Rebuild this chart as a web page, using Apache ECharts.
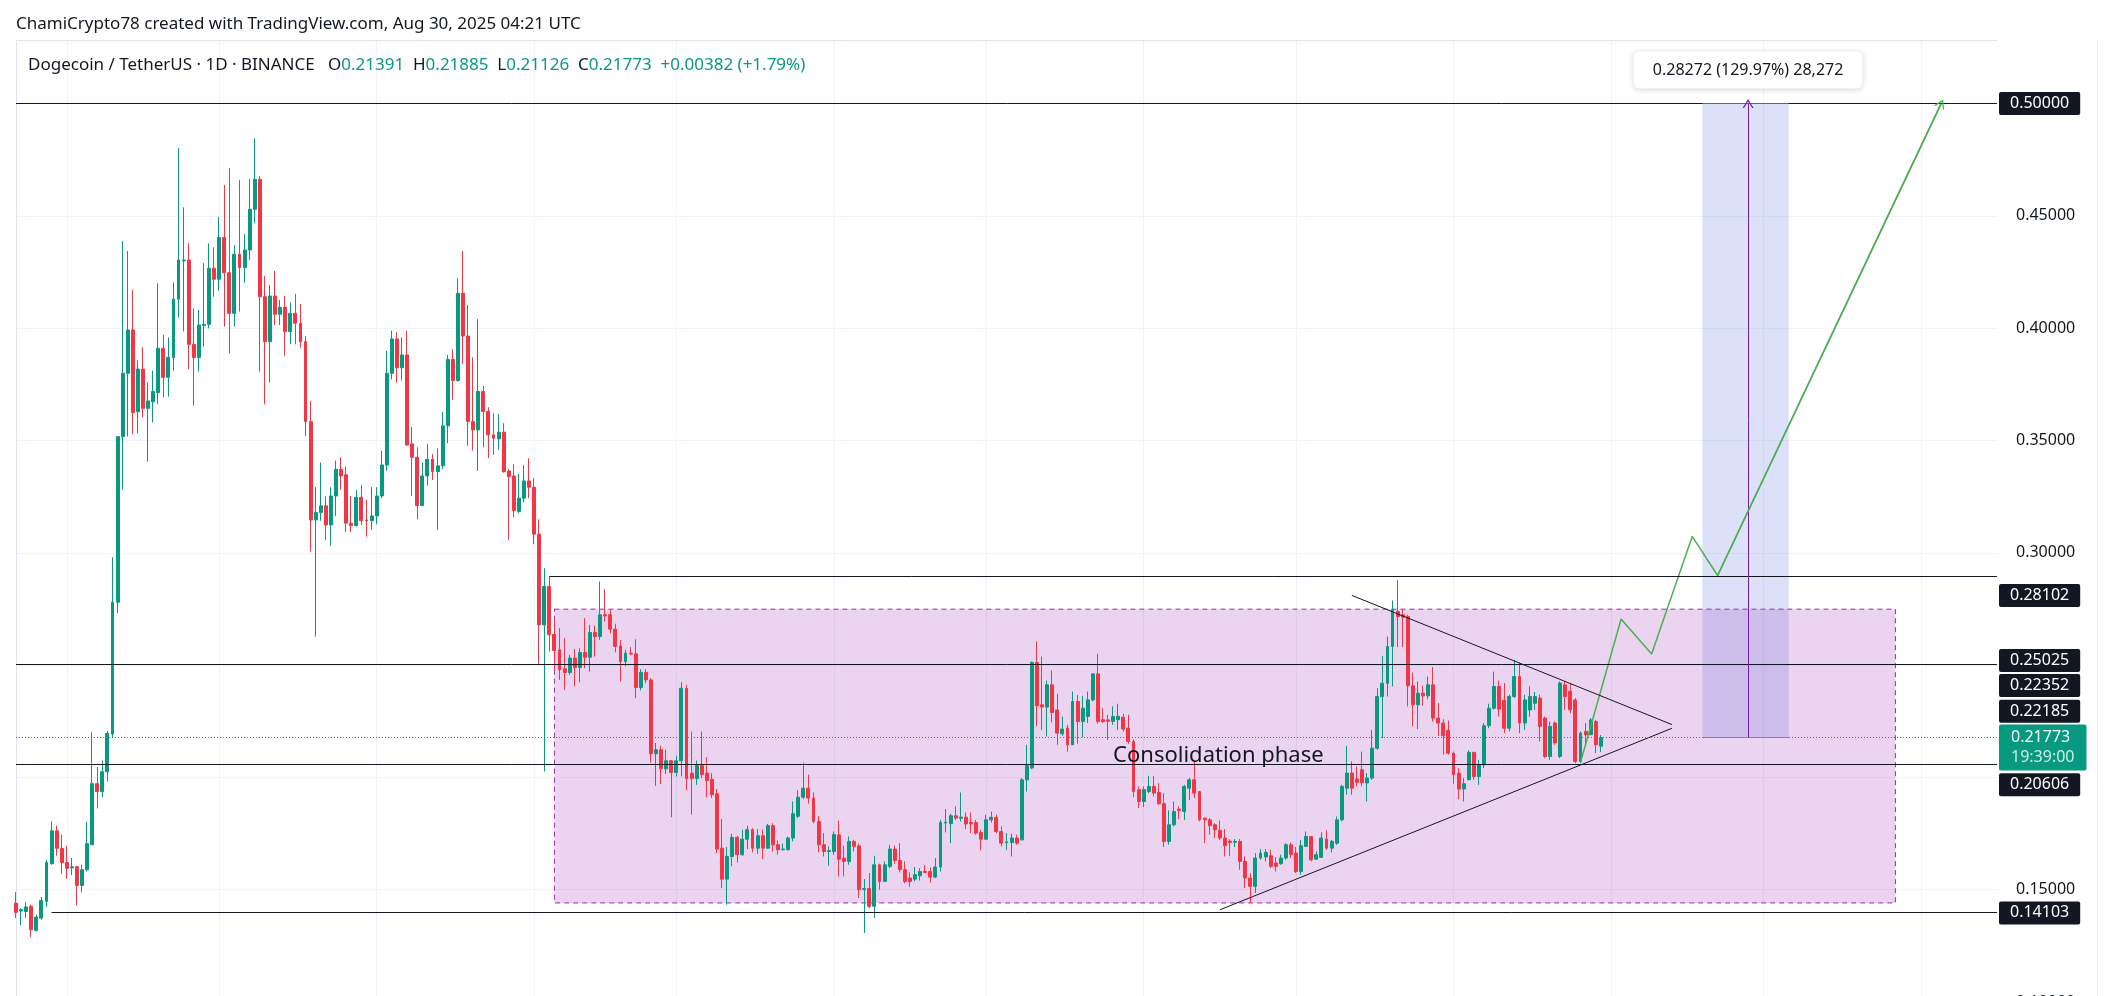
<!DOCTYPE html>
<html>
<head>
<meta charset="utf-8">
<title>Dogecoin / TetherUS 1D</title>
<script src="https://cdn.jsdelivr.net/npm/echarts@6/dist/echarts.min.js"></script>
<style>
  html, body { margin: 0; padding: 0; background: #ffffff; }
  #chart { width: 2114px; height: 996px; }
</style>
</head>
<body>
<div id="chart"></div>
<script>
// daily candles, [open, close, low, high]
const oct24 = [
  [0.1440,0.1399,0.1374,0.1489],[0.1405,0.1411,0.1341,0.1418],[0.1403,0.1423,0.1374,0.1445],
  [0.1426,0.1322,0.1289,0.1433],[0.1319,0.1378,0.1314,0.1389],[0.1374,0.1452,0.1366,0.1467],
  [0.1448,0.1621,0.1423,0.1633],[0.1616,0.1762,0.1611,0.1804],[0.1762,0.1684,0.1651,0.1785],
  [0.1684,0.1621,0.1571,0.1745]
];
const nov24 = [
  [0.1621,0.1595,0.1549,0.1696],[0.1597,0.1602,0.1565,0.1641],[0.1602,0.1519,0.1430,0.1607],
  [0.1519,0.1589,0.1488,0.1611],[0.1589,0.1705,0.1581,0.1802],[0.1700,0.1972,0.1700,0.2200],
  [0.1972,0.1937,0.1862,0.2047],[0.1937,0.2025,0.1911,0.2075],[0.2025,0.2196,0.1982,0.2207],
  [0.2193,0.2780,0.2175,0.2980],[0.2780,0.3517,0.2731,0.3520],[0.3517,0.3799,0.3280,0.4388],
  [0.3799,0.3992,0.3517,0.4344],[0.3992,0.3624,0.3528,0.4170],[0.3628,0.3818,0.3532,0.3856],
  [0.3818,0.3643,0.3603,0.3915],[0.3643,0.3676,0.3406,0.3759],[0.3672,0.3718,0.3580,0.3811],
  [0.3713,0.3910,0.3663,0.4200],[0.3910,0.3781,0.3692,0.3970],[0.3781,0.3870,0.3695,0.3959],
  [0.3869,0.4129,0.3811,0.4204],[0.4129,0.4304,0.4048,0.4801],[0.4300,0.4303,0.3985,0.4538],
  [0.4303,0.3928,0.3817,0.4378],[0.3928,0.3869,0.3655,0.4088],[0.3869,0.4014,0.3807,0.4081],
  [0.4012,0.4017,0.3918,0.4289],[0.4017,0.4267,0.3999,0.4378],[0.4267,0.4218,0.4140,0.4360]
];
const dec24 = [
  [0.4218,0.4404,0.4167,0.4496],[0.4404,0.4247,0.4007,0.4637],[0.4247,0.4066,0.3888,0.4712],
  [0.4066,0.4329,0.4007,0.4370],[0.4329,0.4269,0.4074,0.4660],[0.4269,0.4348,0.4203,0.4419],
  [0.4348,0.4529,0.4304,0.4663],[0.4529,0.4663,0.4467,0.4845],[0.4663,0.4140,0.3807,0.4677],
  [0.4140,0.3940,0.3661,0.4232],[0.3940,0.4143,0.3758,0.4192],[0.4143,0.4062,0.4014,0.4255],
  [0.4062,0.4093,0.4014,0.4126],[0.4093,0.3985,0.3878,0.4143],[0.3985,0.4066,0.3930,0.4115],
  [0.4066,0.4022,0.3928,0.4152],[0.4022,0.3940,0.3913,0.4108],[0.3940,0.3584,0.3520,0.3965],
  [0.3584,0.3146,0.3006,0.3676],[0.3146,0.3179,0.2627,0.3292],[0.3179,0.3209,0.3143,0.3402],
  [0.3209,0.3124,0.3057,0.3250],[0.3124,0.3253,0.3031,0.3292],[0.3253,0.3372,0.3164,0.3411],
  [0.3372,0.3342,0.3280,0.3425],[0.3347,0.3132,0.3092,0.3384],[0.3132,0.3121,0.3092,0.3253],
  [0.3121,0.3247,0.3117,0.3280],[0.3247,0.3143,0.3124,0.3302],[0.3146,0.3143,0.3072,0.3235],
  [0.3143,0.3164,0.3102,0.3292]
];
const jan25 = [
  [0.3164,0.3253,0.3127,0.3292],[0.3253,0.3391,0.3243,0.3454],[0.3391,0.3799,0.3366,0.3899],
  [0.3799,0.3952,0.3772,0.3989],[0.3952,0.3824,0.3758,0.3982],[0.3824,0.3881,0.3767,0.3959],
  [0.3881,0.3480,0.3476,0.3988],[0.3485,0.3425,0.3253,0.3559],[0.3425,0.3210,0.3149,0.3470],
  [0.3210,0.3342,0.3209,0.3402],[0.3342,0.3416,0.3299,0.3485],[0.3416,0.3362,0.3324,0.3439],
  [0.3362,0.3387,0.3102,0.3465],[0.3387,0.3565,0.3372,0.3626],[0.3565,0.3861,0.3488,0.3881],
  [0.3861,0.3767,0.3681,0.3906],[0.3767,0.4155,0.3762,0.4222],[0.4155,0.3965,0.3841,0.4344],
  [0.3965,0.3584,0.3476,0.4103],[0.3584,0.3547,0.3455,0.3870],[0.3547,0.3718,0.3365,0.4040],
  [0.3718,0.3629,0.3470,0.3743],[0.3629,0.3525,0.3421,0.3648],[0.3525,0.3510,0.3436,0.3621],
  [0.3507,0.3537,0.3458,0.3618],[0.3537,0.3361,0.3357,0.3577],[0.3364,0.3339,0.3057,0.3372],
  [0.3342,0.3188,0.3158,0.3394],[0.3184,0.3243,0.3176,0.3351],[0.3243,0.3320,0.3224,0.3391],
  [0.3320,0.3292,0.3243,0.3421]
];
const feb25 = [
  [0.3292,0.3083,0.3038,0.3332],[0.3083,0.2679,0.2506,0.3149],[0.2679,0.2850,0.2026,0.2931],
  [0.2850,0.2635,0.2560,0.2894],[0.2637,0.2565,0.2479,0.2701],[0.2568,0.2479,0.2434,0.2664],
  [0.2483,0.2467,0.2390,0.2620],[0.2467,0.2531,0.2457,0.2546],[0.2531,0.2489,0.2405,0.2571],
  [0.2489,0.2556,0.2423,0.2575],[0.2556,0.2535,0.2486,0.2709],[0.2535,0.2645,0.2471,0.2679],
  [0.2645,0.2627,0.2538,0.2675],[0.2627,0.2724,0.2612,0.2872],[0.2724,0.2719,0.2694,0.2838],
  [0.2724,0.2660,0.2642,0.2746],[0.2660,0.2583,0.2557,0.2684],[0.2585,0.2516,0.2427,0.2612],
  [0.2516,0.2553,0.2494,0.2568],[0.2553,0.2549,0.2546,0.2580],[0.2550,0.2400,0.2353,0.2615],
  [0.2400,0.2468,0.2387,0.2482],[0.2468,0.2434,0.2420,0.2482],[0.2434,0.2105,0.2066,0.2442],
  [0.2105,0.2123,0.1963,0.2153],[0.2123,0.2038,0.1970,0.2141],[0.2038,0.2074,0.2016,0.2123],
  [0.2074,0.2022,0.1823,0.2078]
];
const mar25 = [
  [0.2022,0.2074,0.2004,0.2096],[0.2074,0.2397,0.2004,0.2423],[0.2397,0.1995,0.1942,0.2412],
  [0.2019,0.1995,0.1834,0.2204],[0.1995,0.2052,0.1967,0.2075],[0.2052,0.2012,0.1997,0.2204],
  [0.2019,0.1986,0.1912,0.2090],[0.1992,0.1923,0.1908,0.2019],[0.1927,0.1681,0.1663,0.1948],
  [0.1685,0.1547,0.1507,0.1814],[0.1547,0.1648,0.1433,0.1690],[0.1648,0.1733,0.1604,0.1749],
  [0.1733,0.1656,0.1621,0.1740],[0.1656,0.1725,0.1651,0.1767],[0.1725,0.1767,0.1681,0.1785],
  [0.1767,0.1685,0.1666,0.1774],[0.1685,0.1740,0.1660,0.1770],[0.1740,0.1685,0.1636,0.1767],
  [0.1685,0.1785,0.1681,0.1793],[0.1785,0.1700,0.1670,0.1796],[0.1700,0.1678,0.1656,0.1719],
  [0.1678,0.1681,0.1675,0.1705],[0.1678,0.1730,0.1675,0.1737],[0.1730,0.1838,0.1715,0.1893],
  [0.1827,0.1912,0.1819,0.1942],[0.1912,0.1952,0.1903,0.2066],[0.1952,0.1908,0.1883,0.2012],
  [0.1908,0.1804,0.1796,0.1933],[0.1804,0.1700,0.1666,0.1829],[0.1700,0.1670,0.1648,0.1752],
  [0.1670,0.1674,0.1607,0.1693]
];
const apr25 = [
  [0.1670,0.1745,0.1656,0.1759],[0.1744,0.1636,0.1559,0.1808],[0.1641,0.1626,0.1559,0.1696],
  [0.1626,0.1715,0.1611,0.1737],[0.1715,0.1693,0.1670,0.1722],[0.1695,0.1500,0.1463,0.1705],
  [0.1500,0.1505,0.1307,0.1547],[0.1505,0.1426,0.1418,0.1574],[0.1426,0.1611,0.1374,0.1651],
  [0.1611,0.1537,0.1500,0.1616],[0.1537,0.1611,0.1537,0.1626],[0.1604,0.1681,0.1596,0.1700],
  [0.1681,0.1630,0.1616,0.1696],[0.1630,0.1589,0.1577,0.1707],[0.1589,0.1537,0.1529,0.1626],
  [0.1552,0.1537,0.1512,0.1577],[0.1547,0.1567,0.1537,0.1601],[0.1562,0.1581,0.1541,0.1596],
  [0.1581,0.1577,0.1574,0.1611],[0.1581,0.1556,0.1532,0.1600],[0.1556,0.1601,0.1552,0.1641],
  [0.1601,0.1799,0.1581,0.1811],[0.1797,0.1800,0.1755,0.1859],[0.1794,0.1829,0.1707,0.1838],
  [0.1829,0.1819,0.1811,0.1871],[0.1818,0.1823,0.1804,0.1933],[0.1823,0.1793,0.1770,0.1844],
  [0.1799,0.1793,0.1752,0.1844],[0.1799,0.1752,0.1745,0.1811],[0.1755,0.1725,0.1675,0.1767]
];
const may25 = [
  [0.1725,0.1811,0.1722,0.1834],[0.1811,0.1822,0.1799,0.1848],[0.1822,0.1759,0.1752,0.1834],
  [0.1759,0.1707,0.1693,0.1782],[0.1709,0.1713,0.1678,0.1752],[0.1710,0.1730,0.1648,0.1749],
  [0.1730,0.1707,0.1700,0.1745],[0.1722,0.1989,0.1719,0.1997],[0.1989,0.2052,0.1937,0.2145],
  [0.2042,0.2512,0.2037,0.2516],[0.2512,0.2319,0.2227,0.2605],[0.2323,0.2313,0.2212,0.2538],
  [0.2313,0.2412,0.2182,0.2431],[0.2412,0.2289,0.2245,0.2476],[0.2300,0.2197,0.2145,0.2372],
  [0.2194,0.2215,0.2185,0.2271],[0.2219,0.2145,0.2115,0.2234],[0.2145,0.2338,0.2145,0.2382],
  [0.2338,0.2249,0.2150,0.2368],[0.2249,0.2308,0.2179,0.2363],[0.2271,0.2345,0.2242,0.2382],
  [0.2345,0.2461,0.2338,0.2464],[0.2461,0.2249,0.2239,0.2550],[0.2257,0.2249,0.2242,0.2308],
  [0.2256,0.2250,0.2167,0.2279],[0.2249,0.2271,0.2234,0.2316],[0.2257,0.2272,0.2212,0.2328],
  [0.2268,0.2215,0.2204,0.2283],[0.2219,0.2160,0.2150,0.2279],[0.2160,0.1937,0.1912,0.2170],
  [0.1945,0.1893,0.1863,0.1960]
];
const jun25 = [
  [0.1893,0.1945,0.1868,0.1960],[0.1937,0.1960,0.1930,0.2007],[0.1960,0.1930,0.1915,0.2007],
  [0.1933,0.1883,0.1878,0.1974],[0.1883,0.1715,0.1690,0.1930],[0.1715,0.1789,0.1700,0.1853],
  [0.1789,0.1848,0.1782,0.1893],[0.1859,0.1853,0.1814,0.1871],[0.1848,0.1960,0.1811,0.1967],
  [0.1952,0.1989,0.1900,0.1997],[0.1989,0.1930,0.1908,0.2071],[0.1937,0.1811,0.1804,0.1937],
  [0.1819,0.1811,0.1707,0.1819],[0.1811,0.1785,0.1745,0.1819],[0.1789,0.1767,0.1730,0.1796],
  [0.1764,0.1730,0.1722,0.1808],[0.1730,0.1696,0.1648,0.1770],[0.1716,0.1710,0.1651,0.1725],
  [0.1711,0.1715,0.1690,0.1725],[0.1715,0.1626,0.1589,0.1725],[0.1626,0.1552,0.1507,0.1648],
  [0.1552,0.1515,0.1440,0.1574],[0.1515,0.1641,0.1485,0.1663],[0.1641,0.1663,0.1633,0.1681],
  [0.1646,0.1666,0.1626,0.1681],[0.1651,0.1604,0.1596,0.1678],[0.1619,0.1604,0.1581,0.1645],
  [0.1616,0.1641,0.1611,0.1656],[0.1641,0.1700,0.1633,0.1707],[0.1700,0.1656,0.1641,0.1710]
];
const jul25 = [
  [0.1663,0.1581,0.1574,0.1690],[0.1581,0.1696,0.1567,0.1722],[0.1693,0.1737,0.1690,0.1759],
  [0.1737,0.1633,0.1626,0.1737],[0.1636,0.1656,0.1633,0.1670],[0.1644,0.1730,0.1645,0.1755],
  [0.1725,0.1685,0.1678,0.1764],[0.1685,0.1715,0.1666,0.1722],[0.1707,0.1811,0.1700,0.1826],
  [0.1811,0.1960,0.1804,0.1967],[0.1952,0.2019,0.1923,0.2141],[0.2019,0.1952,0.1923,0.2071],
  [0.1993,0.1978,0.1960,0.2049],[0.2034,0.1977,0.1960,0.2115],[0.1975,0.1997,0.1893,0.2019],
  [0.1997,0.2130,0.1989,0.2212],[0.2130,0.2360,0.2123,0.2397],[0.2360,0.2419,0.2175,0.2541],
  [0.2419,0.2583,0.2360,0.2627],[0.2583,0.2746,0.2405,0.2787],[0.2739,0.2716,0.2580,0.2879],
  [0.2724,0.2713,0.2580,0.2746],[0.2716,0.2408,0.2316,0.2724],[0.2408,0.2323,0.2227,0.2467],
  [0.2323,0.2375,0.2215,0.2427],[0.2375,0.2363,0.2319,0.2408],[0.2363,0.2412,0.2348,0.2449],
  [0.2412,0.2264,0.2249,0.2491],[0.2264,0.2242,0.2185,0.2331],[0.2242,0.2185,0.2101,0.2259],
  [0.2209,0.2108,0.2101,0.2253]
];
const aug25 = [
  [0.2108,0.2012,0.1972,0.2115],[0.2019,0.1948,0.1903,0.2041],[0.1948,0.1972,0.1893,0.1997],
  [0.1990,0.2111,0.1986,0.2120],[0.2111,0.2004,0.1989,0.2115],[0.2004,0.2056,0.1967,0.2078],
  [0.2056,0.2230,0.2041,0.2242],[0.2230,0.2308,0.2219,0.2328],[0.2308,0.2405,0.2301,0.2471],
  [0.2405,0.2304,0.2271,0.2431],[0.2343,0.2219,0.2197,0.2420],[0.2219,0.2360,0.2205,0.2368],
  [0.2360,0.2449,0.2353,0.2523],[0.2449,0.2242,0.2197,0.2509],[0.2242,0.2345,0.2212,0.2368],
  [0.2300,0.2360,0.2270,0.2405],[0.2330,0.2360,0.2300,0.2380],[0.2353,0.2227,0.2160,0.2368],
  [0.2264,0.2093,0.2086,0.2271],[0.2093,0.2227,0.2078,0.2249],[0.2242,0.2153,0.2145,0.2249],
  [0.2093,0.2420,0.2086,0.2427],[0.2412,0.2360,0.2301,0.2427],[0.2383,0.2301,0.2286,0.2420],
  [0.2345,0.2071,0.2063,0.2353],[0.2071,0.2197,0.2063,0.2205],[0.2205,0.2190,0.2138,0.2242],
  [0.2190,0.2256,0.2190,0.2264],[0.2249,0.2145,0.2108,0.2256],[0.21391,0.21773,0.21126,0.21885]
];

// drawings: [bar index, price]
const triangleUpper = [[263, 0.28102], [326, 0.22352]];
const triangleLower = [[237, 0.14103], [326, 0.22185]];
const projection = [[308, 0.2066], [316, 0.2705], [322, 0.2549], [330, 0.3073], [335, 0.2899], [379, 0.5]];
const consolidation = [[106, 0.2749], [370, 0.1441]];
const longBox = [[332, 0.5], [349, 0.21773]];
const targetBar = 341;
const levelsFull = [0.5, 0.25025, 0.20606];
const levelRays = [[105, 0.2897], [7, 0.1401]];
const lastPrice = 0.21773;
const headerLine = 'ChamiCrypto78 created with TradingView.com, Aug 30, 2025 04:21 UTC';
const symbolLine = 'Dogecoin / TetherUS · 1D · BINANCE';
const ohlc = ['0.21391', '0.21885', '0.21126', '0.21773'];
const change = '+0.00382 (+1.79%)';

const candles = [].concat(oct24, nov24, dec24, jan25, feb25, mar25, apr25, may25, jun25, jul25, aug25);

// one category per day, running past the data into empty space on the right
const dates = [];
const startDay = Date.UTC(2024, 9, 22);
for (let k = 0; k < 391; k++) {
  dates.push(new Date(startDay + k * 86400000).toISOString().slice(0, 10));
}
const lastIdx = dates.length - 1;

const UP = '#089981';
const DOWN = '#F23645';
const INK = '#131722';
const FONT = 'Noto Sans';
const chevron = 'path://M0,10L5,0L10,10L8.7,10L5,2.7L1.3,10Z';

const tag = (text, dy) => ({
  show: true, position: 'end', distance: 2, formatter: text,
  color: '#ffffff', backgroundColor: INK, fontFamily: FONT, fontSize: 16,
  padding: [4, 11, 3, 11], borderRadius: 2, offset: [0, dy]
});
const pt = (p) => ({ coord: [dates[p[0]], p[1]] });

const chart = echarts.init(document.getElementById('chart'));

const option = {
  animation: false,
  backgroundColor: '#ffffff',
  textStyle: { fontFamily: FONT },
  title: [
    {
      text: headerLine, left: 16, top: 16, padding: 0,
      textStyle: { fontSize: 17, fontWeight: 'normal', color: INK, fontFamily: FONT }
    },
    {
      text: '{n|' + symbolLine + '}   {k|O}{v|' + ohlc[0] + '}  {k|H}{v|' + ohlc[1] + '}  {k|L}{v|' +
        ohlc[2] + '}  {k|C}{v|' + ohlc[3] + '}  {v|' + change + '}',
      left: 28, top: 57, padding: 0,
      textStyle: {
        fontSize: 17, fontWeight: 'normal', fontFamily: FONT,
        rich: {
          n: { fontSize: 17, color: INK, fontFamily: FONT },
          k: { fontSize: 17, color: INK, fontFamily: FONT },
          v: { fontSize: 17, color: UP, fontFamily: FONT }
        }
      }
    }
  ],
  grid: { left: 16, right: 117, top: 40, bottom: -6, outerBoundsMode: 'none', containLabel: false },
  xAxis: {
    type: 'category', data: dates, boundaryGap: false, position: 'top',
    axisLine: { show: true, lineStyle: { color: '#e0e3eb' } },
    axisTick: { show: false }, axisLabel: { show: false },
    splitLine: {
      show: true,
      interval: (i, v) => v.slice(8) === '01',
      lineStyle: { color: '#f0f3fa', width: 1 }
    }
  },
  yAxis: [
    {
      type: 'value', position: 'right', min: 0.1, max: 0.5283, interval: 0.05,
      axisLine: { show: false }, axisTick: { show: false },
      splitLine: { lineStyle: { color: '#f0f3fa', width: 1 } },
      axisLabel: {
        margin: 19, color: INK, fontSize: 16, fontFamily: FONT,
        formatter: (v) => {
          const k = Math.round(v / 0.05);
          if (Math.abs(v - k * 0.05) > 1e-6) return '';
          if (k === 4 || k === 5 || k === 10) return '';
          return v.toFixed(5);
        }
      }
    },
    {
      type: 'value', position: 'left', min: 0.1, max: 0.5283,
      axisLine: { show: true, lineStyle: { color: '#e0e3eb' } },
      axisTick: { show: false }, axisLabel: { show: false }, splitLine: { show: false }
    },
    {
      type: 'value', position: 'right', offset: 100, min: 0.1, max: 0.5283,
      axisLine: { show: true, lineStyle: { color: '#eef0f4' } },
      axisTick: { show: false }, axisLabel: { show: false }, splitLine: { show: false }
    }
  ],
  series: [
    {
      name: 'DOGEUSDT', type: 'candlestick', data: candles, barWidth: 3.4,
      itemStyle: { color: UP, color0: DOWN, borderColor: UP, borderColor0: DOWN, borderWidth: 1 },
      markArea: {
        silent: true,
        data: [
          [
            Object.assign(pt(consolidation[0]), {
              itemStyle: { color: 'rgba(156,39,176,0.2)', borderColor: '#9c27b0', borderWidth: 1, borderType: [5, 4] }
            }),
            pt(consolidation[1])
          ],
          [
            Object.assign(pt(longBox[0]), { itemStyle: { color: 'rgba(80,100,220,0.2)', borderWidth: 0 } }),
            pt(longBox[1])
          ]
        ]
      },
      markLine: {
        silent: true, symbol: ['none', 'none'], precision: 5,
        lineStyle: { color: INK, width: 1, type: 'solid' },
        label: { show: false },
        data: [
          ...levelsFull.map((v) => ({
            yAxis: v, label: tag(v.toFixed(5), v === 0.25025 ? -4 : (v === 0.20606 ? 21 : 0))
          })),
          [
            { coord: [dates[levelRays[0][0]], levelRays[0][1]] },
            { coord: [dates[lastIdx], levelRays[0][1]] }
          ],
          [
            { coord: [dates[levelRays[1][0]], levelRays[1][1]], label: tag('0.14103', 1) },
            { coord: [dates[lastIdx], levelRays[1][1]] }
          ],
          { yAxis: 0.28102, lineStyle: { color: 'transparent' }, label: tag('0.28102', 0) },
          { yAxis: 0.22352, lineStyle: { color: 'transparent' }, label: tag('0.22352', -39) },
          { yAxis: 0.22185, lineStyle: { color: 'transparent' }, label: tag('0.22185', -17) },
          [pt(triangleUpper[0]), pt(triangleUpper[1])],
          [pt(triangleLower[0]), pt(triangleLower[1])],
          {
            yAxis: lastPrice,
            lineStyle: { color: UP, type: [1, 2], width: 1 },
            label: {
              show: true, position: 'end', distance: 2,
              formatter: '{p|' + lastPrice.toFixed(5) + '}\n{t|19:39:00}',
              backgroundColor: UP, padding: [3, 12, 3, 12], borderRadius: 2, offset: [0, 10],
              rich: {
                p: { color: '#ffffff', fontSize: 16, fontFamily: FONT, lineHeight: 20 },
                t: { color: 'rgba(255,255,255,0.8)', fontSize: 16, fontFamily: FONT, lineHeight: 20 }
              }
            }
          },
          [
            Object.assign(pt(longBox[0]), { lineStyle: { color: '#8e44ad', width: 1 } }),
            { coord: [dates[longBox[1][0]], longBox[0][1]] }
          ],
          [
            Object.assign({ coord: [dates[longBox[0][0]], longBox[1][1]] }, { lineStyle: { color: '#8e7cc3', width: 1 } }),
            pt(longBox[1])
          ],
          [
            { coord: [dates[targetBar], longBox[1][1]], lineStyle: { color: '#7b1fa2', width: 1 } },
            {
              coord: [dates[targetBar], longBox[0][1]], symbol: chevron, symbolSize: [11, 9],
              label: {
                show: true, position: 'end', distance: 15,
                formatter: '0.28272 (129.97%) 28,272',
                color: INK, fontSize: 16, fontFamily: FONT,
                backgroundColor: '#ffffff', padding: [11, 19, 10, 19], borderRadius: 5,
                shadowColor: 'rgba(0,0,0,0.18)', shadowBlur: 6, shadowOffsetY: 1
              }
            }
          ]
        ]
      },
      markPoint: {
        silent: true,
        data: [
          {
            coord: [dates[215], 0.2096], symbol: 'circle', symbolSize: 0,
            label: {
              show: true, position: 'right', distance: 5, formatter: 'Consolidation phase',
              color: INK, fontSize: 22, fontFamily: FONT
            }
          }
        ]
      }
    },
    {
      name: 'projection', type: 'line',
      data: projection.map((p) => [dates[p[0]], p[1]]),
      symbol: 'none', silent: true, z: 4,
      lineStyle: { color: '#4caf50', width: 1.5 },
      markLine: {
        silent: true, symbol: ['none', chevron], symbolSize: [11, 9],
        lineStyle: { color: '#4caf50', width: 1.5, type: 'solid' },
        label: { show: false },
        data: [[pt(projection[4]), pt(projection[5])]]
      }
    }
  ]
};

chart.setOption(option);
window.addEventListener('resize', () => chart.resize());
</script>
</body>
</html>
